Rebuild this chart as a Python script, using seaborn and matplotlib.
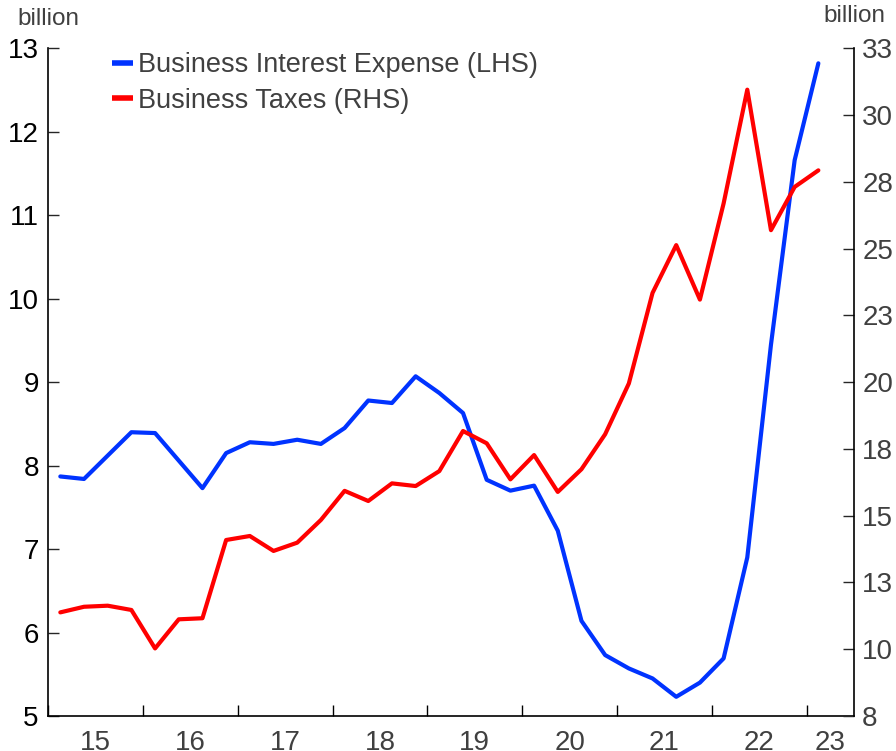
import matplotlib
matplotlib.use("Agg")
import matplotlib.pyplot as plt
import numpy as np
import pandas as pd
import seaborn as sns
from matplotlib.ticker import FixedLocator, FuncFormatter

# quarterly data, 2015Q1 .. 2023Q1
years = [2015] * 4 + [2016] * 4 + [2017] * 4 + [2018] * 4 + [2019] * 4 + \
        [2020] * 4 + [2021] * 4 + [2022] * 4 + [2023]
quarters = [1, 2, 3, 4] * 8 + [1]

interest_expense = [7.87, 7.84, 8.12, 8.40, 8.39, 8.06, 7.73, 8.15,
                    8.28, 8.26, 8.31, 8.26, 8.45, 8.78, 8.75, 9.07,
                    8.87, 8.63, 7.83, 7.70, 7.76, 7.22, 6.14, 5.73,
                    5.57, 5.45, 5.23, 5.40, 5.69, 6.90, 9.45, 11.66,
                    12.82]
business_taxes = [11.38, 11.59, 11.63, 11.47, 10.03, 11.12, 11.16, 14.09,
                  14.24, 13.68, 13.99, 14.84, 15.93, 15.55, 16.21, 16.11,
                  16.67, 18.17, 17.71, 16.36, 17.27, 15.89, 16.74, 18.05,
                  19.95, 23.34, 25.13, 23.09, 26.69, 30.95, 25.69, 27.31,
                  27.93]

year_labels = ['15', '16', '17', '18', '19', '20', '21', '22', '23']

BLUE = '#0033ff'
RED = '#ff0000'
GREY = '#404040'

df = pd.DataFrame({'year': years, 'quarter': quarters,
                   'interest': interest_expense, 'taxes': business_taxes})
df['t'] = df.year + (df.quarter - 0.5) / 4


def run():
    sns.set_style('white')
    plt.rcParams['font.family'] = ['Liberation Sans', 'DejaVu Sans']

    fig = plt.figure(figsize=(8.96, 7.51), dpi=100)
    ax = fig.add_axes([0.0541, 0.0466, 0.8989, 0.8891])
    ax2 = ax.twinx()

    sns.lineplot(ax=ax, data=df, x='t', y='interest', color=BLUE,
                 linewidth=3, label='Business Interest Expense (LHS)',
                 legend=False)
    sns.lineplot(ax=ax2, data=df, x='t', y='taxes', color=RED,
                 linewidth=3, label='Business Taxes (RHS)', legend=False)

    ax.set_xlim(2015, 2023.5)
    ax.set_ylim(5, 13)
    ax2.set_ylim(7.5, 32.5)
    ax.set_xlabel('')
    ax.set_ylabel('')
    ax2.set_ylabel('')

    # x axis: ticks at year boundaries, labels in between
    ax.xaxis.set_major_locator(FixedLocator(np.arange(2015, 2024)))
    ax.xaxis.set_major_formatter(FuncFormatter(lambda v, p: ''))
    mids = list(np.arange(2015.5, 2023, 1.0)) + [2023.25]
    ax.xaxis.set_minor_locator(FixedLocator(mids))
    ax.set_xticklabels(year_labels, minor=True)
    ax.tick_params(axis='x', which='major', direction='in', length=8,
                   width=1, color='black', bottom=True)
    ax.tick_params(axis='x', which='minor', length=0, pad=10,
                   labelsize=20, labelcolor=GREY, bottom=True)

    ax.set_yticks(np.arange(5, 14))
    ax.tick_params(axis='y', direction='in', length=8, width=1,
                   labelsize=20, labelcolor='black', pad=7, left=True)

    ax2.set_yticks(np.arange(7.5, 33, 2.5))
    ax2.yaxis.set_major_formatter(FuncFormatter(lambda v, p: str(int(v + 0.5))))
    ax2.tick_params(axis='y', direction='in', length=8, width=1,
                    labelsize=20, labelcolor=GREY, pad=6, right=True)

    for a in (ax, ax2):
        for s in a.spines.values():
            s.set_visible(False)
    ax.spines['left'].set_visible(True)
    ax.spines['bottom'].set_visible(True)
    ax2.spines['right'].set_visible(True)
    for s in ('left', 'bottom'):
        ax.spines[s].set_color('black')
        ax.spines[s].set_linewidth(1.2)
    ax2.spines['right'].set_color('black')
    ax2.spines['right'].set_linewidth(1.2)

    fig.text(0.019, 0.975, 'billion', fontsize=17.5, color=GREY,
             ha='left', va='center')
    fig.text(0.988, 0.979, 'billion', fontsize=17.5, color=GREY,
             ha='right', va='center')

    handles = ax.get_lines()[:1] + ax2.get_lines()[:1]
    leg = ax.legend(handles, [h.get_label() for h in handles],
                    loc='upper left', bbox_to_anchor=(0.065, 1.01),
                    frameon=False, fontsize=19.5, handlelength=0.78,
                    handletextpad=0.2, labelspacing=0.35, borderaxespad=0)
    for t in leg.get_texts():
        t.set_color(GREY)
    for h in leg.legend_handles:
        h.set_linewidth(4)
        h.set_solid_capstyle('butt')

    fig.savefig('out.png', dpi=100)


if __name__ == '__main__':
    run()
